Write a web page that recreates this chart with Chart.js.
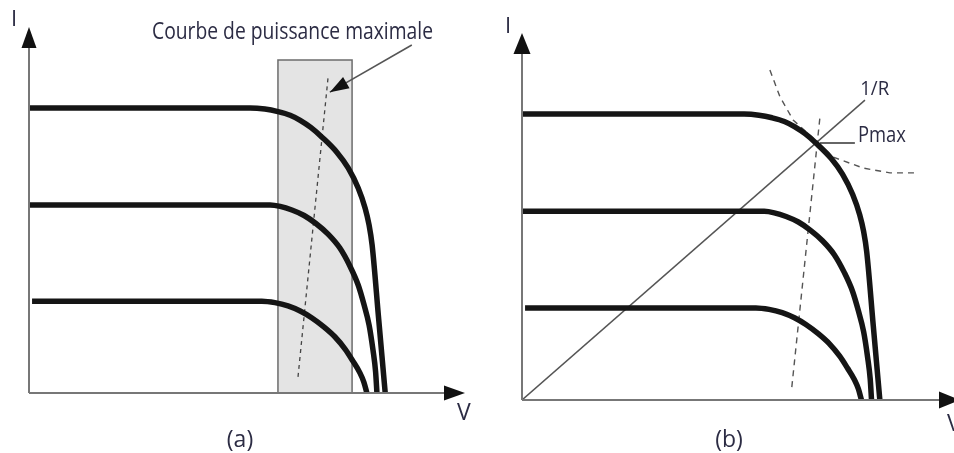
<!DOCTYPE html>
<html>
<head>
<meta charset="utf-8">
<script src="https://cdn.jsdelivr.net/npm/chart.js@4.4.1/dist/chart.umd.min.js"></script>
<style>
  body { margin: 0; background: #fff; width: 954px; height: 453px; overflow: hidden; position: relative; }
  .panel { position: absolute; top: 0; }
</style>
</head>
<body>
<div class="panel" style="left:0"><canvas id="chartA" width="477" height="453"></canvas></div>
<div class="panel" style="left:477px"><canvas id="chartB" width="490" height="453"></canvas></div>
<script>
// I-V characteristics at three irradiance levels, both axes in relative units (0..100)
const voltsHigh = [0, 50.7, 54.1, 57.1, 59.9, 62.2, 64.7, 67.2, 70.6, 73.2, 75.5, 77.1, 78.0, 78.7, 80.2, 81.7]
const ampsHigh  = [77.9, 77.9, 77.6, 76.9, 75.9, 74.5, 72.5, 69.9, 65.8, 61.5, 56.0, 50.5, 45.9, 40.4, 20.2, 0]
const voltsMid  = [0, 55.3, 57.6, 60.3, 63.1, 65.8, 68.6, 71.3, 73.6, 75.5, 76.8, 78.0, 78.9, 79.5, 79.8]
const ampsMid   = [51.4, 51.4, 51.0, 50.0, 48.5, 46.3, 43.4, 39.6, 34.7, 29.5, 24.3, 18.6, 11.7, 5.7, 0]
const voltsLow  = [0.7, 53.4, 56.4, 59.4, 62.2, 64.9, 67.7, 70.2, 72.5, 74.3, 75.9, 76.8, 77.5]
const ampsLow   = [25.1, 25.1, 24.7, 23.8, 22.4, 20.5, 18.0, 15.3, 12.0, 8.7, 5.5, 3.0, 0]

// (a) maximum power zone and the locus of maximum power points
const zoneVolts = [57.1, 57.1, 74.1, 74.1]
const zoneAmps  = [0, 91.0, 91.0, 0]
const mppVoltsA = [61.7, 68.6]
const mppAmpsA  = [4.4, 86.3]
const pointerVolts = [87.8, 69.0]
const pointerAmps  = [95.1, 82.2]

// (b) load line, constant power curve and the operating point
const loadVolts = [0, 78.3]
const loadAmps  = [0, 81.7]
const powerVolts = [56.6, 58.9, 61.9, 66.4, 71.0, 77.9, 84.0, 89.7]
const powerAmps  = [89.9, 82.6, 76.3, 71.4, 66.2, 63.2, 61.9, 61.9]
const mppVoltsB = [61.6, 68.0]
const mppAmpsB  = [3.5, 76.8]
const leaderVolts = [68.0, 76.0]
const leaderAmps  = [70.0, 70.0]

const textColor = '#2c2c44'

function pts(xs, ys) {
	return xs.map((x, i) => ({ x: x, y: ys[i] }))
}

function curve(xs, ys) {
	return {
		data: pts(xs, ys),
		borderColor: '#151515',
		borderWidth: 5.5,
		cubicInterpolationMode: 'monotone',
		pointRadius: 0,
		fill: false,
	}
}

function thin(xs, ys, color, width, dash) {
	return {
		data: pts(xs, ys),
		borderColor: color,
		borderWidth: width,
		borderDash: dash || [],
		tension: 0,
		pointRadius: 0,
		fill: false,
	}
}

function arrowHead(ctx, fx, fy, tx, ty, len, half) {
	const a = Math.atan2(ty - fy, tx - fx)
	ctx.save()
	ctx.translate(tx, ty)
	ctx.rotate(a)
	ctx.beginPath()
	ctx.moveTo(0, 0)
	ctx.lineTo(-len, -half)
	ctx.lineTo(-len, half)
	ctx.closePath()
	ctx.fillStyle = '#111'
	ctx.fill()
	ctx.restore()
}

function label(ctx, text, x, y, size, align, maxWidth) {
	ctx.save()
	ctx.font = size + 'px "Open Sans"'
	ctx.fillStyle = textColor
	ctx.textAlign = align || 'left'
	ctx.textBaseline = 'alphabetic'
	if (maxWidth) {
		ctx.fillText(text, x, y, maxWidth)
	} else {
		ctx.fillText(text, x, y)
	}
	ctx.restore()
}

// axes with arrow tips, plus free text for each panel
function decorations(cfg) {
	return {
		id: 'decorations',
		afterDatasetsDraw(chart) {
			const ctx = chart.ctx
			const xs = chart.scales.x
			const ys = chart.scales.y
			const ox = xs.getPixelForValue(0)
			const oy = ys.getPixelForValue(0)
			const tipX = xs.getPixelForValue(100)
			const tipY = ys.getPixelForValue(100)

			ctx.save()
			ctx.strokeStyle = '#777'
			ctx.lineWidth = 2
			ctx.beginPath()
			ctx.moveTo(ox, oy)
			ctx.lineTo(tipX - 10, oy)
			ctx.moveTo(ox, oy)
			ctx.lineTo(ox, tipY + 10)
			ctx.stroke()
			ctx.restore()
			arrowHead(ctx, ox, oy, tipX, oy, cfg.head, cfg.half)
			arrowHead(ctx, ox, oy, ox, tipY, cfg.head, cfg.half)

			if (cfg.pointer !== undefined) {
				const el = chart.getDatasetMeta(cfg.pointer).data
				arrowHead(ctx, el[0].x, el[0].y, el[1].x, el[1].y, 19, 6.5)
			}

			for (const t of cfg.texts) {
				let x = t.px, y = t.py
				if (t.v !== undefined) {
					x = xs.getPixelForValue(t.v)
					y = ys.getPixelForValue(t.i)
				}
				label(ctx, t.text, x, y, t.size, t.align, t.maxWidth)
			}
		}
	}
}

function makeChart(id, datasets, pad, cfg) {
	return new Chart(document.getElementById(id), {
		type: 'line',
		data: { datasets: datasets },
		options: {
			responsive: false,
			animation: false,
			events: [],
			layout: { padding: pad },
			plugins: {
				legend: { display: false },
				tooltip: { enabled: false },
			},
			scales: {
				x: { type: 'linear', min: 0, max: 100, display: false },
				y: { type: 'linear', min: 0, max: 100, display: false },
			},
		},
		plugins: [decorations(cfg)],
	})
}

// (a)
const zone = thin(zoneVolts, zoneAmps, '#6c6c6c', 1.5)
zone.fill = 'origin'
zone.backgroundColor = '#e4e4e4'

makeChart('chartA', [
	curve(voltsHigh, ampsHigh),
	curve(voltsMid, ampsMid),
	curve(voltsLow, ampsLow),
	thin(mppVoltsA, mppAmpsA, '#444', 1.3, [4, 4]),
	thin(pointerVolts, pointerAmps, '#555', 1.6),
	zone,
], { left: 29, right: 12, top: 27, bottom: 60 }, {
	head: 21, half: 7.5, pointer: 4,
	texts: [
		{ text: 'Courbe de puissance maximale', px: 152, py: 39, size: 23, maxWidth: 281 },
		{ text: 'I', px: 11, py: 26, size: 22 },
		{ text: 'V', px: 457, py: 420, size: 23 },
		{ text: '(a)', px: 240, py: 447, size: 23, align: 'center' },
	],
})

// (b)
makeChart('chartB', [
	curve(voltsHigh, ampsHigh),
	curve(voltsMid, ampsMid),
	curve(voltsLow, ampsLow),
	thin(loadVolts, loadAmps, '#555', 1.5),
	thin(powerVolts, powerAmps, '#555', 1.4, [6, 5]),
	thin(mppVoltsB, mppAmpsB, '#555', 1.4, [6, 5]),
	thin(leaderVolts, leaderAmps, '#333', 1.5),
], { left: 45, right: 7, top: 33, bottom: 53 }, {
	head: 21, half: 8.5,
	texts: [
		{ text: '1/R', v: 77.2, i: 83.1, size: 20, maxWidth: 29 },
		{ text: 'Pmax', v: 76.7, i: 70.3, size: 22, maxWidth: 48 },
		{ text: 'I', px: 28, py: 33, size: 22 },
		{ text: 'V', px: 470, py: 431, size: 23 },
		{ text: '(b)', px: 252, py: 447, size: 23, align: 'center' },
	],
})
</script>
</body>
</html>
